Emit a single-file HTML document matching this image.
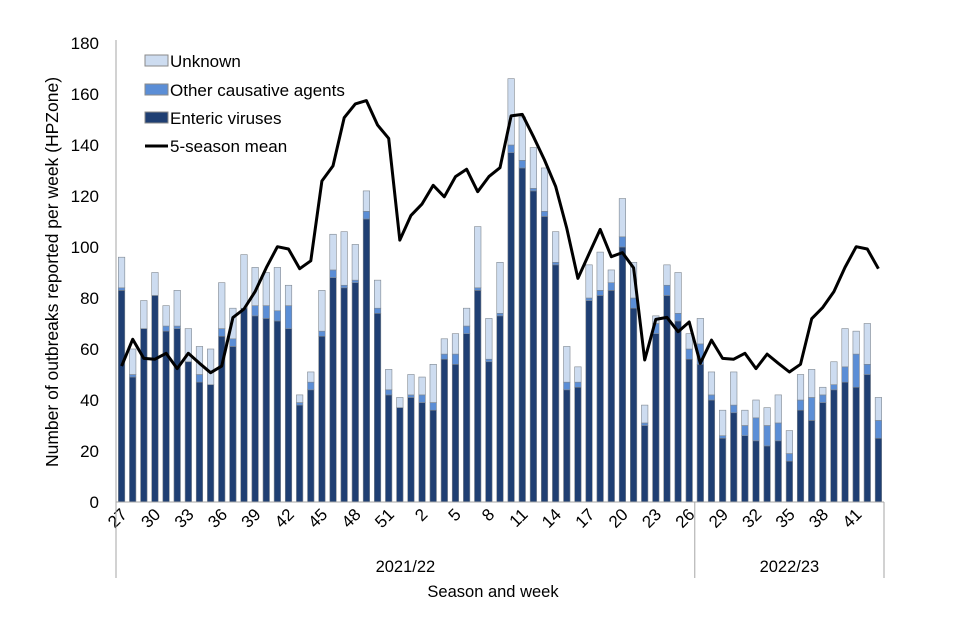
<!DOCTYPE html>
<html><head><meta charset="utf-8">
<style>
html,body{margin:0;padding:0;background:#fff;}
svg{display:block;font-family:"Liberation Sans",Arial,sans-serif;}
</style></head>
<body>
<svg id="chart" width="960" height="640" viewBox="0 0 960 640" xmlns="http://www.w3.org/2000/svg">
<g id="grid"></g>
<g id="bars"></g>
<g id="line"></g>
<g id="axes"></g>
<g id="legend">
  <rect x="145" y="55" width="23" height="11" fill="#cddcf0" stroke="#8a8a8a" stroke-width="1"/>
  <text x="170" y="67" font-size="17" fill="#000">Unknown</text>
  <rect x="145" y="84" width="23" height="11" fill="#5b8ed6" stroke="#8a8a8a" stroke-width="1"/>
  <text x="170" y="96" font-size="17" fill="#000">Other causative agents</text>
  <rect x="145" y="112" width="23" height="11" fill="#1f3f73" stroke="#8a8a8a" stroke-width="1"/>
  <text x="170" y="124" font-size="17" fill="#000">Enteric viruses</text>
  <line x1="145" y1="146" x2="168" y2="146" stroke="#000" stroke-width="3"/>
  <text x="170" y="152" font-size="17" fill="#000">5-season mean</text>
</g>
</svg>
<script>
const weeks = [27,28,29,30,31,32,33,34,35,36,37,38,39,40,41,42,43,44,45,46,47,48,49,50,51,52,1,2,3,4,5,6,7,8,9,10,11,12,13,14,15,16,17,18,19,20,21,22,23,24,25,26,27,28,29,30,31,32,33,34,35,36,37,38,39,40,41,42,43];
const enteric = [83,49,68,81,67,68,55,47,46,65,61,76,73,72,71,68,38,44,65,88,84,86,111,74,42,37,41,39,36,56,54,66,83,55,73,137,131,122,112,93,44,45,79,81,83,100,76,30,66,81,71,56,54,40,25,35,26,24,22,24,16,36,32,39,44,47,45,50,25];
const other = [1,1,0,0,2,1,0,3,0,3,3,0,4,5,4,9,1,3,2,3,1,1,3,2,2,0,1,3,3,2,4,3,1,1,1,3,3,1,2,1,3,2,1,2,3,4,4,1,4,4,3,4,8,2,1,3,4,9,8,7,3,4,9,3,2,6,13,4,7];
const unknown = [12,10,11,9,8,14,13,11,14,18,12,21,15,13,17,8,3,4,16,14,21,14,8,11,8,4,8,7,15,6,8,7,24,16,20,26,17,16,17,12,14,6,13,15,5,15,14,7,3,8,16,6,10,9,10,13,6,7,7,11,9,10,11,3,9,15,9,16,9];
const mean5 = [53.3,63.8,56.3,56,58.3,52.3,58.3,54.4,50.7,53.3,72.3,75.7,82.5,91.9,100.1,99.2,91.5,94.6,125.9,131.8,150.7,156.1,157.4,147.8,142.6,102.7,112.4,116.9,124.2,119.7,127.6,130.5,121.7,127.6,131.1,151.4,152,143.3,134.1,123.7,107.3,87.7,97.3,106.9,96.2,97.8,91.8,55.7,71.6,72.4,66.8,70.6,54.4,63.5,56.3,56,58.3,52.3,58,54.4,51,54,71.9,76.3,82.5,92,100.1,99.2,91.5];
const yTicks = [0,20,40,60,80,100,120,140,160,180];
const seasons = ["2021/22","2022/23"];
const seasonCounts = [52,17];

const NS="http://www.w3.org/2000/svg";
const X0=116, X1=884, Y0=502, YT=43, YMAX=180;
const n=weeks.length, slot=(X1-X0)/n;
function xc(i){return X0+(i+0.5)*slot;}
function y(v){return Y0-(v/YMAX)*(Y0-YT);}
function mk(tag,attrs,parent){const e=document.createElementNS(NS,tag);for(const k in attrs)e.setAttribute(k,attrs[k]);parent.appendChild(e);return e;}
const gBars=document.getElementById('bars'),gLine=document.getElementById('line'),gAxes=document.getElementById('axes');
const bw=6.5;
for(let i=0;i<n;i++){
  const x=xc(i)-bw/2;
  const segs=[[0,enteric[i],'#1f3f73','enteric'],[enteric[i],enteric[i]+other[i],'#5b8ed6','other'],[enteric[i]+other[i],enteric[i]+other[i]+unknown[i],'#cddcf0','unknown']];
  for(const s of segs){
    if(s[1]-s[0]<=0)continue;
    const r=mk('rect',{x:x,y:y(s[1]),width:bw,height:y(s[0])-y(s[1]),fill:s[2],stroke:'#7f8790','stroke-width':0.6},gBars);
    
    
  }
}
let d='';
for(let i=0;i<n;i++){d+=(i?'L':'M')+xc(i).toFixed(1)+','+y(mean5[i]).toFixed(1);}
const pl=mk('path',{d:d,fill:'none',stroke:'#000','stroke-width':3,'stroke-linejoin':'round'},gLine);


const ya=mk('line',{x1:X0,y1:YT-3,x2:X0,y2:Y0,stroke:'#a6a6a6','stroke-width':1},gAxes);


const xa=mk('line',{x1:X0,y1:Y0,x2:X1,y2:Y0,stroke:'#a6a6a6','stroke-width':1},gAxes);


for(const t of yTicks){
  const tx=mk('text',{x:99,y:y(t)+6,'text-anchor':'end','font-size':17,fill:'#000'},gAxes);
  tx.textContent=t;
  
  
}
for(let i=0;i<n;i+=3){
  const cx=xc(i)+3, cy=Y0+10;
  const tx=mk('text',{x:cx,y:cy+5,'text-anchor':'end','font-size':17,fill:'#000',transform:'rotate(-45 '+cx+' '+cy+')'},gAxes);
  tx.textContent=weeks[i];
  
  
}
let start=0;
const sepXs=[X0];
for(let s=0;s<seasons.length;s++){
  const a=X0+start*slot, b=X0+(start+seasonCounts[s])*slot;
  sepXs.push(b);
  const tx=mk('text',{x:(a+b)/2,y:572,'text-anchor':'middle','font-size':16.5,fill:'#000'},gAxes);
  tx.textContent=seasons[s];
  
  
  start+=seasonCounts[s];
}
for(const sx of sepXs){
  const l=mk('line',{x1:sx,y1:Y0,x2:sx,y2:578,stroke:'#a6a6a6','stroke-width':1},gAxes);
  
  
}
const xt=mk('text',{x:493,y:597,'text-anchor':'middle','font-size':16.5,fill:'#000'},gAxes);
xt.textContent='Season and week';


const yt=mk('text',{x:0,y:0,'text-anchor':'middle','font-size':17.5,fill:'#000',transform:'translate(58 272) rotate(-90)'},gAxes);
yt.textContent='Number of outbreaks reported per week (HPZone)';


</script>
</body></html>
